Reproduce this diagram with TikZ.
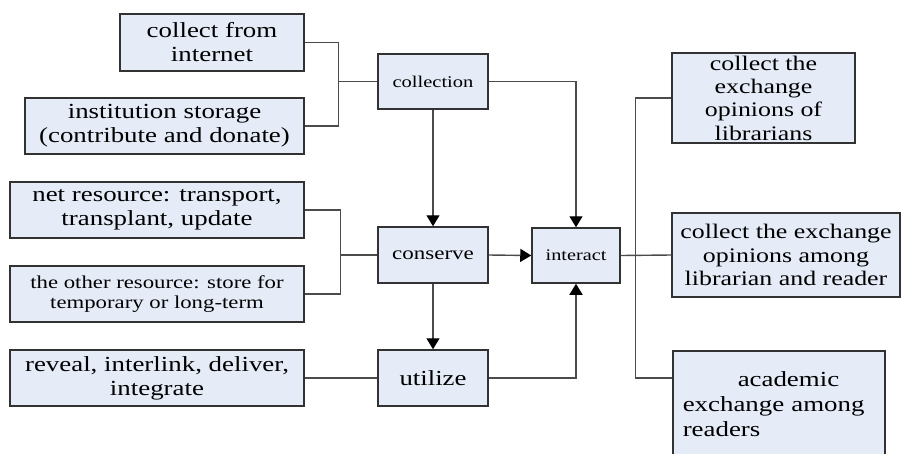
\documentclass[tikz,border=0pt]{standalone}
\usepackage{fontspec}
\setmainfont[FakeStretch=1.25]{Liberation Serif}
\usetikzlibrary{calc,arrows.meta}
\definecolor{boxfill}{RGB}{229,236,248}
\definecolor{boxline}{RGB}{50,50,50}
\definecolor{wire}{RGB}{75,75,75}
\tikzset{
  block/.style={draw=boxline,fill=boxfill,line width=1.5pt,inner sep=0pt,align=center,
    font=\fontsize{21.5}{24}\selectfont},
  link/.style={draw=wire,line width=1.4pt},
  flow/.style={link,-{Triangle[width=13pt,length=11pt,color=black]}}
}
\begin{document}
\begin{tikzpicture}[x=1pt,y=-1pt]
	\useasboundingbox (0,0) rectangle (901,453);
	% left column
	\node(inet) [block,minimum width=184,minimum height=57] at (212,42.5) {collect from\\internet};
	\node(inst) [block,minimum width=279,minimum height=56] at (164.5,126) {institution storage\\(contribute and donate)};
	\node(netres) [block,minimum width=294,minimum height=56] at (157,210) {net resource: transport,\\transplant, update};
	\node(othres) [block,minimum width=294,minimum height=56,font=\fontsize{18.2}{20.5}\selectfont] at (157,294) {the other resource: store for\\temporary or long-term};
	\node(reveal) [block,minimum width=294,minimum height=56] at (157,378) {reveal, interlink, deliver,\\integrate};
	% middle column
	\node(collection) [block,minimum width=110,minimum height=55,font=\fontsize{16.4}{18}\selectfont] at (433,81.5) {collection};
	\node(conserve) [block,minimum width=110,minimum height=56,font=\fontsize{18.4}{20}\selectfont] at (433,255) {conserve};
	\node(utilize) [block,minimum width=110,minimum height=56,font=\fontsize{21.4}{24}\selectfont] at (433,378) {utilize};
	\node(interact) [block,minimum width=88,minimum height=55,font=\fontsize{16.2}{18}\selectfont] at (576,255.5) {interact};
	% right column
	\node(lib) [block,minimum width=183,minimum height=90,font=\fontsize{20.7}{23.3}\selectfont] at (763.5,98) {collect the\\exchange\\opinions of\\librarians};
	\node(libread) [block,minimum width=228,minimum height=84,font=\fontsize{20.7}{23.5}\selectfont] at (786,255) {collect the exchange\\opinions among\\librarian and reader};
	\node(acad) [block,anchor=north west,inner xsep=10pt,text width=192pt,align=left,minimum height=106,font=\fontsize{21.5}{25}\selectfont] at (672,350) {\hspace*{55pt}academic\\exchange among\\readers};
	% joints
	\coordinate (jc) at ($(collection.west)+(-39,0)$);
	\coordinate (jv) at ($(conserve.west)+(-37,0)$);
	\coordinate (bus) at ($(interact.east)+(15,0)$);
	\coordinate (acadin) at ($(acad.north west)+(0,28)$);
	% connectors
	\draw[link] (inet.east) -| (jc) |- (inst.east);
	\draw[link] (jc) -- (collection.west);
	\draw[link] (netres.east) -| (jv) |- (othres.east);
	\draw[link] (jv) -- (conserve.west);
	\draw[link] (reveal.east) -- (utilize.west);
	\draw[flow] (collection.south) -- (conserve.north);
	\draw[flow] (conserve.south) -- (utilize.north);
	\draw[flow] (conserve.east) -- (interact.west);
	\draw[flow] (collection.east) -| (interact.north);
	\draw[flow] (utilize.east) -| (interact.south);
	\draw[link] (interact.east) -- (libread.west);
	\draw[link] (lib.west) -| (bus) |- (acadin);
\end{tikzpicture}
\end{document}
